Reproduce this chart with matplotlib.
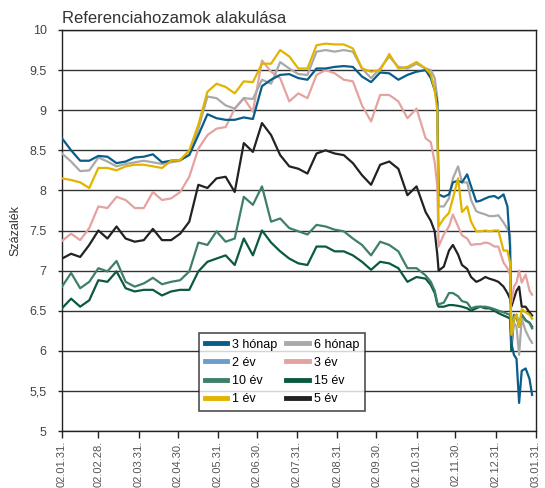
import numpy as np
import pandas as pd
import matplotlib
matplotlib.use("Agg")
import matplotlib.pyplot as plt
from matplotlib.lines import Line2D

plt.rcParams['font.family'] = ['Liberation Sans', 'DejaVu Sans']

start_date = "2002-01-31"
day_offsets = list(range(0, 281, 7)) + [284, 287, 289, 290, 294, 298, 301, 305, 308, 312, 315, 319, 322,
                                         326, 329, 333, 336, 340, 343, 345, 346, 348, 350, 352, 354, 357, 360, 362]

honap3 = [8.65, 8.50, 8.37, 8.37, 8.43, 8.42, 8.34, 8.36, 8.41, 8.42, 8.45, 8.35, 8.37, 8.38,
          8.44, 8.69, 8.95, 8.90, 8.88, 8.88, 8.91, 8.89, 9.30, 9.38, 9.44, 9.45, 9.40,
          9.38, 9.52, 9.52, 9.54, 9.55, 9.54, 9.42, 9.35, 9.47, 9.46, 9.38, 9.44, 9.48, 9.50,
          9.40, 9.25, 9.10, 7.95, 7.92, 7.95, 8.10, 8.12, 8.10, 8.20, 8.05, 7.86, 7.87, 7.90,
          7.92, 7.93, 7.90, 7.95, 7.80, 7.30, 6.10, 5.95, 5.90, 5.35, 5.75, 5.78, 5.65, 5.45]
honap6 = [8.46, 8.36, 8.24, 8.25, 8.41, 8.36, 8.30, 8.33, 8.35, 8.37, 8.35, 8.33, 8.35, 8.37,
          8.45, 8.77, 9.17, 9.15, 9.06, 9.02, 9.15, 9.14, 9.38, 9.33, 9.60, 9.52, 9.45,
          9.44, 9.73, 9.75, 9.73, 9.75, 9.73, 9.52, 9.40, 9.52, 9.67, 9.54, 9.52, 9.58, 9.52,
          9.50, 9.40, 9.15, 7.80, 7.80, 7.90, 8.15, 8.30, 8.10, 8.10, 7.88, 7.74, 7.72, 7.70,
          7.68, 7.68, 7.69, 7.60, 7.52, 7.45, 6.10, 6.35, 6.30, 5.95, 6.40, 6.25, 6.15, 6.10]
ev1 = [8.15, 8.13, 8.10, 8.03, 8.28, 8.28, 8.25, 8.30, 8.32, 8.32, 8.30, 8.28, 8.37, 8.38,
       8.50, 8.82, 9.23, 9.33, 9.29, 9.21, 9.36, 9.35, 9.58, 9.58, 9.75, 9.67, 9.52,
       9.52, 9.81, 9.83, 9.82, 9.82, 9.77, 9.52, 9.48, 9.50, 9.70, 9.52, 9.54, 9.60, 9.52,
       9.45, 9.25, 9.00, 7.55, 7.65, 7.72, 7.90, 8.15, 7.73, 7.80, 7.61, 7.49, 7.49, 7.50,
       7.49, 7.50, 7.50, 7.25, 7.25, 7.10, 6.20, 6.40, 6.45, 6.30, 6.52, 6.48, 6.45, 6.40]
ev3 = [7.37, 7.46, 7.38, 7.53, 7.80, 7.78, 7.92, 7.88, 7.78, 7.78, 7.98, 7.88, 7.90, 7.98,
       8.17, 8.52, 8.69, 8.77, 8.79, 9.02, 9.15, 8.98, 9.62, 9.48, 9.40, 9.11, 9.21,
       9.15, 9.44, 9.50, 9.46, 9.38, 9.36, 9.06, 8.86, 9.19, 9.19, 9.11, 8.90, 9.02, 8.65,
       8.60, 8.35, 8.05, 7.30, 7.45, 7.55, 7.70, 7.55, 7.44, 7.40, 7.32, 7.33, 7.33, 7.35,
       7.34, 7.30, 7.30, 7.10, 7.03, 6.95, 6.60, 6.80, 6.85, 7.00, 6.85, 6.95, 6.75, 6.70]
ev5 = [7.15, 7.21, 7.17, 7.32, 7.50, 7.40, 7.55, 7.40, 7.36, 7.38, 7.52, 7.38, 7.38, 7.46,
       7.61, 8.07, 8.03, 8.15, 8.17, 7.98, 8.59, 8.48, 8.84, 8.69, 8.44, 8.30, 8.27,
       8.21, 8.46, 8.50, 8.46, 8.44, 8.34, 8.19, 8.07, 8.32, 8.36, 8.27, 7.94, 8.05, 7.73,
       7.62, 7.49, 7.20, 7.00, 7.05, 7.25, 7.32, 7.20, 7.07, 7.02, 6.92, 6.86, 6.88, 6.92,
       6.90, 6.88, 6.86, 6.80, 6.72, 6.65, 6.55, 6.65, 6.75, 6.80, 6.55, 6.55, 6.48, 6.44]
ev10 = [6.80, 6.97, 6.78, 6.86, 7.03, 6.99, 7.12, 6.86, 6.80, 6.84, 6.91, 6.83, 6.86, 6.88,
        6.99, 7.35, 7.32, 7.49, 7.36, 7.40, 7.92, 7.82, 8.05, 7.61, 7.65, 7.53, 7.49,
        7.45, 7.57, 7.55, 7.51, 7.49, 7.40, 7.32, 7.19, 7.36, 7.32, 7.24, 7.03, 7.03, 6.94,
        6.86, 6.75, 6.60, 6.58, 6.60, 6.72, 6.72, 6.68, 6.62, 6.60, 6.53, 6.55, 6.55, 6.55,
        6.54, 6.52, 6.50, 6.48, 6.46, 6.45, 6.20, 6.45, 6.40, 6.32, 6.45, 6.38, 6.35, 6.28]
ev15 = [6.53, 6.65, 6.55, 6.63, 6.88, 6.86, 6.99, 6.78, 6.74, 6.76, 6.76, 6.69, 6.74, 6.76,
        6.76, 6.99, 7.11, 7.15, 7.19, 7.07, 7.40, 7.19, 7.50, 7.35, 7.24, 7.15, 7.09,
        7.07, 7.30, 7.30, 7.24, 7.24, 7.19, 7.11, 7.01, 7.11, 7.09, 7.03, 6.86, 6.92, 6.90,
        6.82, 6.72, 6.58, 6.55, 6.55, 6.57, 6.57, 6.56, 6.55, 6.53, 6.50, 6.53, 6.55, 6.53,
        6.53, 6.50, 6.47, 6.44, 6.42, 6.40, 6.00, 6.40, 6.45, 6.30, 6.45, 6.38, 6.35, 6.30]

tick_dates = ["2002-01-31", "2002-02-28", "2002-03-31", "2002-04-30", "2002-05-31", "2002-06-30",
              "2002-07-31", "2002-08-31", "2002-09-30", "2002-10-31", "2002-11-30", "2002-12-31",
              "2003-01-31"]
tick_labels = ["02.01.31.", "02.02.28.", "02.03.31.", "02.04.30.", "02.05.31.", "02.06.30.",
               "02.07.31.", "02.08.31.", "02.09.30.", "02.10.31.", "02.11.30.", "02.12.31.",
               "03.01.31."]
y_ticks = [5, 5.5, 6, 6.5, 7, 7.5, 8, 8.5, 9, 9.5, 10]
y_tick_labels = ["5", "5,5", "6", "6.5", "7", "7.5", "8", "8.5", "9", "9.5", "10"]

dates = pd.to_datetime(start_date) + pd.to_timedelta(day_offsets, unit="D")

col = {
    "3 hónap": "#0a5c8a",
    "6 hónap": "#a9a9a9",
    "2 év": "#6b9fc9",
    "3 év": "#e4a3a0",
    "10 év": "#3f7f68",
    "15 év": "#0b5a3e",
    "1 év": "#e1b400",
    "5 év": "#222222",
}

fig = plt.figure(figsize=(5.45, 4.88), dpi=100)
ax = fig.add_axes([62 / 545, 1 - 431 / 488, 474 / 545, 401 / 488])

for y in y_ticks:
    ax.axhline(y, color="#333333", lw=1.0, zorder=1)

series = [("15 év", ev15), ("10 év", ev10), ("5 év", ev5), ("3 év", ev3),
          ("6 hónap", honap6), ("3 hónap", honap3), ("1 év", ev1)]
for name, vals in series:
    ax.plot(dates, vals, color=col[name], lw=1.6, zorder=3)

ax.set_ylim(5, 10)
ax.set_xlim(pd.to_datetime(tick_dates[0]), pd.to_datetime(tick_dates[-1]))
ax.set_yticks(y_ticks)
ax.set_yticklabels(y_tick_labels, fontsize=9, color="#444444")
ax.set_xticks(pd.to_datetime(tick_dates))
ax.set_xticklabels(tick_labels, rotation=90, fontsize=8, color="#555555")
ax.tick_params(axis="y", length=3, width=1, color="#222222", pad=8)
ax.tick_params(axis="x", length=5, width=1, color="#222222", pad=2)
for s in ax.spines.values():
    s.set_color("#222222")
    s.set_linewidth(1.0)

ax.set_ylabel("Százalék", fontsize=9, color="#333333", labelpad=6)
fig.text(62 / 545, 1 - 23 / 488, "Referenciahozamok alakulása", fontsize=12,
         color="#333333", ha="left", va="baseline")

order = ["3 hónap", "2 év", "10 év", "1 év", "6 hónap", "3 év", "15 év", "5 év"]
handles = [Line2D([0], [0], color=col[n], lw=3.5) for n in order]
leg = ax.legend(handles, order, ncol=2, loc="lower left", bbox_to_anchor=(0.289, 0.05),
                fontsize=9, frameon=True, fancybox=False, edgecolor="#222222",
                handlelength=1.8, handletextpad=0.4, columnspacing=0.7, labelspacing=0.5,
                borderpad=0.45, borderaxespad=0)
leg.get_frame().set_linewidth(1.2)
leg.get_frame().set_facecolor("white")
leg.set_zorder(5)

fig.savefig("out.png", dpi=100)
